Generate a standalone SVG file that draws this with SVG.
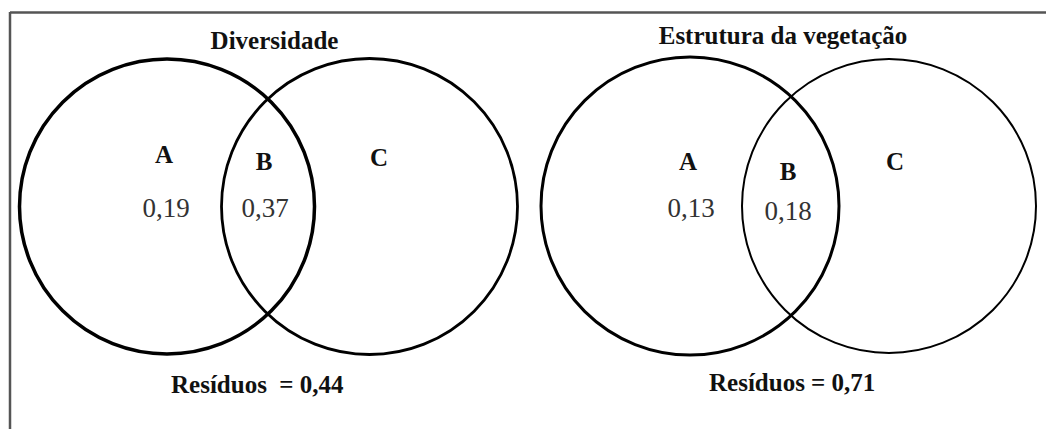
<svg xmlns="http://www.w3.org/2000/svg" width="1046" height="429" viewBox="0 0 1046 429">
<style>
.frame{stroke:#555;stroke-width:2.5;fill:none}
.c{fill:none;stroke:#000}
.t{font-family:"Liberation Serif","Times New Roman",serif;font-size:25px;font-weight:bold;fill:#111;text-anchor:middle}
.n{font-family:"Liberation Serif","Times New Roman",serif;font-size:27px;fill:#333;text-anchor:middle}
.r{font-family:"Liberation Serif","Times New Roman",serif;font-size:25px;font-weight:bold;fill:#111;white-space:pre}
</style>
<rect width="1046" height="429" fill="#fff"/>
<g id="frame">
<line class="frame" x1="10" y1="12.5" x2="1046" y2="12.5"/>
<line class="frame" x1="10" y1="12" x2="10" y2="429"/>
</g>
<g id="diversidade">
<text class="t" x="274.5" y="49">Diversidade</text>
<g id="div-A"><circle class="c" cx="167" cy="206.5" r="147.5" stroke-width="3.5"/>
<text class="t" x="164" y="163">A</text><text class="n" x="166" y="217">0,19</text></g>
<g id="div-B"><text class="t" x="264" y="170">B</text><text class="n" x="265" y="217">0,37</text></g>
<g id="div-C"><circle class="c" cx="369.5" cy="206.5" r="148" stroke-width="2.8"/>
<text class="t" x="379" y="166">C</text></g>
<text class="r" x="171" y="393" xml:space="preserve">Resíduos  = 0,44</text>
</g>
<g id="estrutura">
<text class="t" x="783" y="44">Estrutura da vegetação</text>
<g id="est-A"><circle class="c" cx="690" cy="206" r="149" stroke-width="3"/>
<text class="t" x="688" y="170">A</text><text class="n" x="691" y="217">0,13</text></g>
<g id="est-B"><text class="t" x="788" y="180">B</text><text class="n" x="788" y="220">0,18</text></g>
<g id="est-C"><circle class="c" cx="889" cy="206" r="147" stroke-width="2"/>
<text class="t" x="895" y="170">C</text></g>
<text class="r" x="709" y="391">Resíduos = 0,71</text>
</g>
</svg>
